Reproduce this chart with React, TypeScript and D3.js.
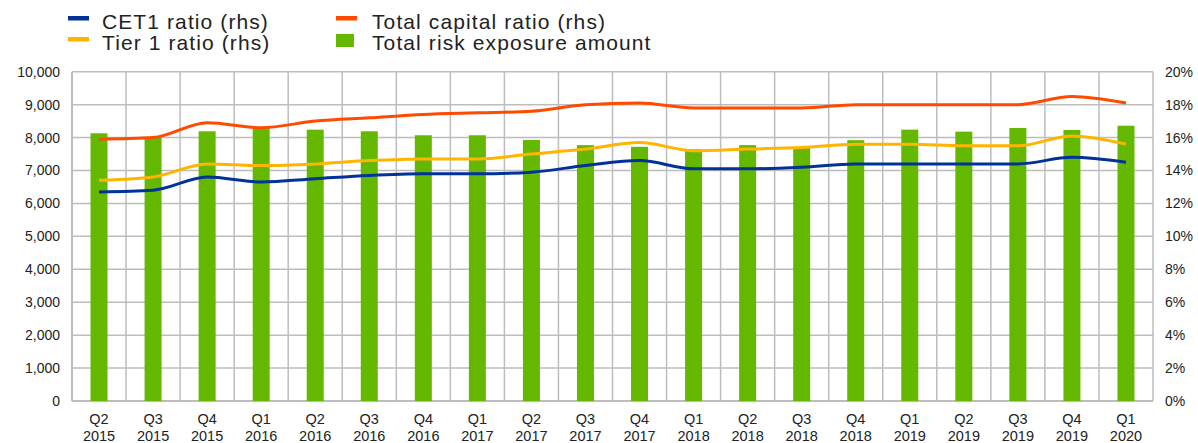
import React from "react";
import * as d3 from "d3";

const quarters = ["Q2","Q3","Q4","Q1","Q2","Q3","Q4","Q1","Q2","Q3","Q4","Q1","Q2","Q3","Q4","Q1","Q2","Q3","Q4","Q1"];
const years = ["2015","2015","2015","2016","2016","2016","2016","2017","2017","2017","2017","2018","2018","2018","2018","2019","2019","2019","2019","2020"];
const trea = [8130, 8010, 8190, 8310, 8240, 8190, 8070, 8070, 7930, 7770, 7720, 7650, 7770, 7690, 7920, 8240, 8180, 8290, 8230, 8360];
const cet1 = [12.7, 12.8, 13.6, 13.3, 13.5, 13.7, 13.8, 13.8, 13.9, 14.3, 14.6, 14.1, 14.1, 14.2, 14.4, 14.4, 14.4, 14.4, 14.8, 14.5];
const tier1 = [13.4, 13.6, 14.4, 14.3, 14.4, 14.6, 14.7, 14.7, 15.0, 15.3, 15.7, 15.2, 15.3, 15.4, 15.6, 15.6, 15.5, 15.5, 16.1, 15.6];
const totalCap = [15.9, 16.0, 16.9, 16.6, 17.0, 17.2, 17.4, 17.5, 17.6, 18.0, 18.1, 17.8, 17.8, 17.8, 18.0, 18.0, 18.0, 18.0, 18.5, 18.1];
const leftTicks = [0, 1000, 2000, 3000, 4000, 5000, 6000, 7000, 8000, 9000, 10000];
const rightTicks = [0, 2, 4, 6, 8, 10, 12, 14, 16, 18, 20];

const W = 1198, H = 443;
const L = 72, R = 1153, T = 71.7, B = 401;
const GRID = "#BDBDBD";
const FONT = "'Liberation Sans', Arial, sans-serif";

export default function App() {
  const idx = quarters.map((_, i) => String(i));
  const x = d3.scaleBand().domain(idx).range([L, R]).padding(0);
  const yL = d3.scaleLinear().domain([0, 10000]).range([B, T]);
  const yR = d3.scaleLinear().domain([0, 20]).range([B, T]);
  const barW = 17;
  const cx = (i: number) => (x(String(i)) as number) + x.bandwidth() / 2;
  const line = d3.line<number>().x((_, i) => cx(i)).y((d) => yR(d)).curve(d3.curveMonotoneX);
  const fmt = d3.format(",");

  const series = [
    { data: totalCap, color: "#FF4B00" },
    { data: tier1, color: "#FFB400" },
    { data: cet1, color: "#003299" },
  ];

  return (
    <svg width={W} height={H} style={{ position: "absolute", left: 0, top: 0, background: "#fff" }} fontFamily={FONT}>
      {leftTicks.map((t) => (
        <line key={"h" + t} x1={L} x2={R} y1={yL(t)} y2={yL(t)} stroke={GRID} strokeWidth={1.5} />
      ))}
      {idx.map((d, i) => (
        <line key={"v" + i} x1={(x(d) as number) + x.bandwidth()} x2={(x(d) as number) + x.bandwidth()} y1={T} y2={B} stroke={GRID} strokeWidth={1.5} />
      ))}
      <line x1={L} x2={L} y1={T} y2={B} stroke={GRID} strokeWidth={2} />
      <line x1={L} x2={R} y1={B} y2={B} stroke={GRID} strokeWidth={2} />
      {trea.map((v, i) => (
        <rect key={"b" + i} x={cx(i) - barW / 2} width={barW} y={yL(v)} height={B - yL(v)} fill="#65B800" />
      ))}
      {series.map((s, k) => (
        <path key={"l" + k} d={line(s.data) as string} fill="none" stroke={s.color} strokeWidth={3} />
      ))}
      {leftTicks.map((t) => (
        <text key={"lt" + t} x={60} y={yL(t) + 5} textAnchor="end" fontSize={14} fill="#222">{fmt(t)}</text>
      ))}
      {rightTicks.map((t) => (
        <text key={"rt" + t} x={1165} y={yR(t) + 5} textAnchor="start" fontSize={14} fill="#222">{t + "%"}</text>
      ))}
      {quarters.map((q, i) => (
        <g key={"c" + i}>
          <text x={cx(i)} y={424} textAnchor="middle" fontSize={14.5} fill="#222">{q}</text>
          <text x={cx(i)} y={441} textAnchor="middle" fontSize={14.5} fill="#222">{years[i]}</text>
        </g>
      ))}
      <rect x={68} y={16} width={21} height={4.5} fill="#003299" />
      <text x={102} y={29} fontSize={21} letterSpacing={1.1} fill="#222">CET1 ratio (rhs)</text>
      <rect x={68} y={37} width={21} height={4.5} fill="#FFB400" />
      <text x={102} y={50} fontSize={21} letterSpacing={1.1} fill="#222">Tier 1 ratio (rhs)</text>
      <rect x={336} y={16} width={21} height={4.5} fill="#FF4B00" />
      <text x={372} y={29} fontSize={21} letterSpacing={1.1} fill="#222">Total capital ratio (rhs)</text>
      <rect x={336} y={34} width={18} height={13} fill="#65B800" />
      <text x={372} y={50} fontSize={21} letterSpacing={1.1} fill="#222">Total risk exposure amount</text>
    </svg>
  );
}
